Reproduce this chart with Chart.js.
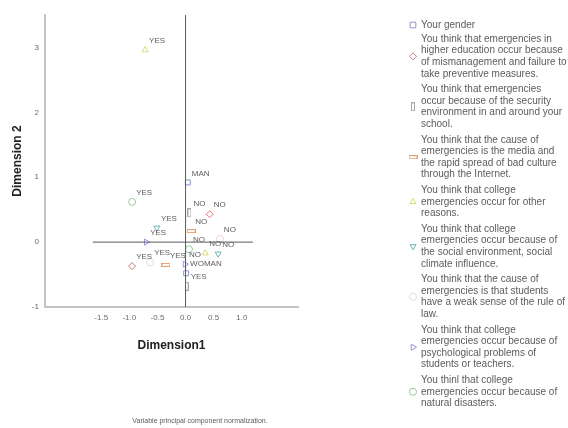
<!DOCTYPE html>
<html>
<head>
<meta charset="utf-8">
<script src="https://cdn.jsdelivr.net/npm/chart.js@4/dist/chart.umd.min.js"></script>
<style>
  html, body { margin: 0; padding: 0; background: #fff; }
  canvas { display: block; }
</style>
</head>
<body>
<canvas id="joint" width="568" height="428"></canvas>
<script>
// --- data ---
const varNames = [
  ['Your gender'],
  ['You think that emergencies in', 'higher education occur because', 'of mismanagement and failure to', 'take preventive measures.'],
  ['You think that emergencies', 'occur because of the security', 'environment in and around your', 'school.'],
  ['You think that the cause of', 'emergencies is the media and', 'the rapid spread of bad culture', 'through the Internet.'],
  ['You think that college', 'emergencies occur for other', 'reasons.'],
  ['You think that college', 'emergencies occur because of', 'the social environment, social', 'climate influence.'],
  ['You think that the cause of', 'emergencies is that students', 'have a weak sense of the rule of', 'law.'],
  ['You think that college', 'emergencies occur because of', 'psychological problems of', 'students or teachers.'],
  ['You thinl that college', 'emergencies occur because of', 'natural disasters.']
];
const categories = [
  ['MAN', 'WOMAN'], ['YES', 'NO'], ['YES', 'NO'], ['YES', 'NO'], ['YES', 'NO'],
  ['YES', 'NO'], ['YES', 'NO'], ['YES', 'NO'], ['YES', 'NO']
];
const dim1 = [
  [0.04, 0.01], [-0.95, 0.43], [0.02, 0.07], [-0.35, 0.10], [-0.72, 0.35],
  [-0.51, 0.58], [-0.63, 0.61], [-0.70, -0.01], [-0.95, 0.06]
];
const dim2 = [
  [0.92, -0.48], [-0.37, 0.43], [-0.68, 0.45], [-0.35, 0.17], [2.96, -0.17],
  [0.22, -0.18], [-0.31, 0.05], [0.00, -0.34], [0.62, -0.11]
];
const xTicks = [-1.5, -1.0, -0.5, 0.0, 0.5, 1.0];
const yTicks = [-1, 0, 1, 2, 3];
const hRefX = [-1.65, 1.2];   // horizontal zero line extent (dimension 1)
const vRefY = [-1, 3.5];      // vertical zero line extent (dimension 2)
const footNote = 'Variable principal component normalization.';

// --- marker styling ---
function boxMarker(w, h, color) {
  const c = document.createElement('canvas');
  c.width = w; c.height = h;
  const g = c.getContext('2d');
  g.strokeStyle = color; g.lineWidth = 1;
  g.strokeRect(0.5, 0.5, w - 1, h - 1);
  return c;
}
const markerColors = ['#8a96c4', '#d87878', '#a8a8a8', '#e6a070', '#d8dc78', '#6fb7b4', '#ecd6e2', '#9494e0', '#98cc98'];
const markerStyles = [
  'rect', 'rectRot', boxMarker(4, 9, '#a8a8a8'), boxMarker(9, 4, '#e6a070'),
  'triangle', 'triangle', 'circle', 'triangle', 'circle'
];
const markerRot = [0, 0, 0, 0, 0, 180, 0, 90, 0];

const FONT = '"Liberation Sans", Arial, sans-serif';

const pointSets = dim1.map((xs, k) => ({
  type: 'scatter',
  label: varNames[k].join(' '),
  cats: categories[k],
  data: xs.map((x, i) => ({ x: x, y: dim2[k][i] })),
  pointStyle: markerStyles[k],
  rotation: markerRot[k],
  pointRadius: 3.5,
  borderWidth: 1,
  borderColor: markerColors[k],
  backgroundColor: 'rgba(0,0,0,0)'
}));

const refSets = [
  { type: 'line', data: hRefX.map(x => ({ x: x, y: 0 })), borderColor: '#5a5a5a', borderWidth: 1, pointRadius: 0 },
  { type: 'line', data: vRefY.map(y => ({ x: 0, y: y })), borderColor: '#5a5a5a', borderWidth: 1, pointRadius: 0 }
];

// category labels next to points
const pointLabels = {
  id: 'pointLabels',
  afterDatasetsDraw(chart) {
    const ctx = chart.ctx;
    ctx.save();
    ctx.font = '8px ' + FONT;
    ctx.fillStyle = '#5c5c5c';
    ctx.textBaseline = 'middle';
    chart.data.datasets.forEach((ds, di) => {
      if (!ds.cats) return;
      chart.getDatasetMeta(di).data.forEach((pt, i) => {
        ctx.fillText(ds.cats[i], pt.x + 4, pt.y - 9);
      });
    });
    ctx.restore();
  }
};

// SPSS style legend on the right + footnote
const sideLegend = {
  id: 'sideLegend',
  afterDraw(chart) {
    const ctx = chart.ctx;
    const lineH = 11.6, gap = 4;
    let y = 25;
    ctx.save();
    ctx.font = '10px ' + FONT;
    ctx.fillStyle = '#5c5c5c';
    ctx.textBaseline = 'middle';
    varNames.forEach((lines, k) => {
      if (k === 1) y = 39;
      const mid = y + (lines.length - 1) * lineH / 2;
      lines.forEach((t, j) => ctx.fillText(t, 421, y + j * lineH));
      ctx.strokeStyle = markerColors[k];
      ctx.fillStyle = 'rgba(0,0,0,0)';
      ctx.lineWidth = 1;
      if (Chart.helpers && Chart.helpers.drawPoint) {
        Chart.helpers.drawPoint(ctx, { pointStyle: markerStyles[k], rotation: markerRot[k], radius: k === 0 ? 4 : 3.5, borderWidth: 1 }, 413, mid);
      }
      ctx.fillStyle = '#5c5c5c';
      y += lines.length * lineH + gap;
    });
    ctx.font = '7px ' + FONT;
    ctx.textAlign = 'center';
    ctx.fillText(footNote, 200, 421);
    ctx.restore();
  }
};

new Chart(document.getElementById('joint'), {
  data: { datasets: [...refSets, ...pointSets] },
  plugins: [pointLabels, sideLegend],
  options: {
    responsive: false,
    animation: false,
    layout: { padding: { left: 0, top: 15, right: 270, bottom: 71 } },
    plugins: { legend: { display: false }, tooltip: { enabled: false } },
    scales: {
      x: {
        type: 'linear', min: -2.5, max: 2.0,
        afterBuildTicks: s => { s.ticks = xTicks.map(v => ({ value: v })); },
        afterFit: s => { s.height = 50; },
        grid: { display: false, drawTicks: false },
        border: { display: true, color: '#c4c4c4', width: 2 },
        ticks: { padding: 6, color: '#6a6a6a', font: { family: FONT, size: 8 }, callback: v => Number(v).toFixed(1) },
        title: { display: true, text: 'Dimension1', color: '#222', padding: { top: 0, bottom: 4 }, font: { family: FONT, size: 12, weight: 'bold' } }
      },
      y: {
        type: 'linear', min: -1, max: 3.5,
        afterBuildTicks: s => { s.ticks = yTicks.map(v => ({ value: v })); },
        afterFit: s => { s.width = 45; },
        grid: { display: false, drawTicks: false },
        border: { display: true, color: '#c4c4c4', width: 2 },
        ticks: { padding: 6, color: '#6a6a6a', font: { family: FONT, size: 8 }, callback: v => String(v) },
        title: { display: true, text: 'Dimension 2', color: '#222', padding: { top: 10, bottom: 0 }, font: { family: FONT, size: 12, weight: 'bold' } }
      }
    }
  }
});
</script>
</body>
</html>
